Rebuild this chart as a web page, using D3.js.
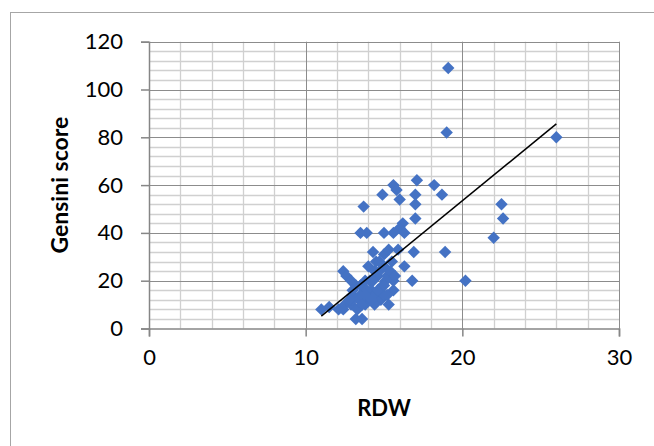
<!DOCTYPE html>
<html>
<head>
<meta charset="utf-8">
<title>RDW vs Gensini score</title>
<script src="https://d3js.org/d3.v7.min.js"></script>
<style>
  body { margin: 0; background: #fff; }
  svg text { font-family: Lato, "Open Sans", sans-serif; fill: #000; }
  .tick-label { font-size: 22px; }
  .axis-title { font-size: 22px; font-weight: bold; }
  .y-title { font-size: 23px; }
</style>
</head>
<body>
<script>
// RDW values (x) and Gensini scores (y)
const rdw = [
  11.0, 11.5, 12.1, 12.4, 12.5, 12.9, 13.0, 13.2, 13.6, 13.3, 13.5, 13.0,
  12.4, 12.6, 12.9, 13.2, 13.5, 13.8, 14.0, 14.1, 14.3, 14.5, 14.7, 15.0,
  15.0, 15.3, 15.5, 15.2, 15.6, 15.6, 15.3, 15.9, 16.3, 16.8, 16.9, 16.2,
  16.0, 16.3, 15.6, 15.0, 13.9, 13.5, 13.7, 14.9, 15.6, 15.8, 16.0, 17.1,
  17.0, 17.0, 17.0, 18.2, 18.7, 18.9, 19.0, 19.1, 20.2, 22.0, 22.5, 22.6,
  26.0, 14.2, 14.5, 14.0, 14.8, 14.9, 15.1, 14.6, 13.8, 14.4, 13.9, 14.3,
  15.4, 15.7, 15.0, 14.7, 13.0, 13.4, 13.8, 14.2, 14.6, 15.0, 15.2, 14.4,
  13.6, 12.8
];
const gensini = [
  8, 9, 8, 8, 10, 10, 12, 4, 4, 8, 14, 14,
  24, 22, 20, 18, 18, 20, 26, 20, 32, 28, 24, 31,
  26, 33, 28, 22, 20, 16, 10, 33, 26, 20, 32, 44,
  42, 40, 40, 40, 40, 40, 51, 56, 60, 58, 54, 62,
  56, 52, 46, 60, 56, 32, 82, 109, 20, 38, 52, 46,
  80, 16, 14, 12, 12, 18, 20, 22, 10, 10, 16, 20,
  24, 22, 14, 28, 16, 12, 14, 12, 16, 18, 14, 24,
  10, 12
];
// linear trendline end points
const trendX = [11, 26];
const trendY = [5.2, 85.6];

const xTicks = [0, 10, 20, 30];
const yTicks = [0, 20, 40, 60, 80, 100, 120];

const W = 654, H = 446;
const pLeft = 149, pRight = 619, pTop = 41.7, pBottom = 328.5;

const svg = d3.select("body").append("svg")
  .attr("width", W).attr("height", H);

// chart border
svg.append("rect")
  .attr("x", 10.5).attr("y", 12.5)
  .attr("width", W + 20).attr("height", H + 20)
  .attr("fill", "#fff").attr("stroke", "#a6a6a6").attr("stroke-width", 1);

const x = d3.scaleLinear().domain([0, 30]).range([pLeft, pRight]);
const y = d3.scaleLinear().domain([0, 120]).range([pBottom, pTop]);

// minor gridlines
const grid = svg.append("g");
grid.selectAll(".vminor")
  .data(d3.range(2, 30, 2).filter(v => v % 10 !== 0))
  .join("line")
  .attr("x1", d => Math.round(x(d)) + 0.5).attr("x2", d => Math.round(x(d)) + 0.5)
  .attr("y1", pTop).attr("y2", pBottom)
  .attr("stroke", "#d0d0d0").attr("stroke-width", 1.3);
grid.selectAll(".hminor")
  .data(d3.range(4, 120, 4).filter(v => v % 20 !== 0))
  .join("line")
  .attr("x1", pLeft).attr("x2", pRight)
  .attr("y1", d => Math.round(y(d)) + 0.5).attr("y2", d => Math.round(y(d)) + 0.5)
  .attr("stroke", "#d0d0d0").attr("stroke-width", 1.3);

// major gridlines
grid.selectAll(".vmajor")
  .data(xTicks.slice(1))
  .join("line")
  .attr("x1", d => Math.round(x(d)) + 0.5).attr("x2", d => Math.round(x(d)) + 0.5)
  .attr("y1", pTop).attr("y2", pBottom)
  .attr("stroke", "#8c8c8c").attr("stroke-width", 1);
grid.selectAll(".hmajor")
  .data(yTicks.slice(1))
  .join("line")
  .attr("x1", pLeft).attr("x2", pRight)
  .attr("y1", d => Math.round(y(d)) + 0.5).attr("y2", d => Math.round(y(d)) + 0.5)
  .attr("stroke", "#8c8c8c").attr("stroke-width", 1);

// axes
const xAxis = d3.axisBottom(x).tickValues(xTicks).tickSize(8).tickPadding(4);
const yAxis = d3.axisLeft(y).tickValues(yTicks).tickSize(8).tickPadding(18);

const gx = svg.append("g")
  .attr("transform", `translate(0,${pBottom})`)
  .call(xAxis);
const gy = svg.append("g")
  .attr("transform", `translate(${pLeft},0)`)
  .call(yAxis);

[gx, gy].forEach(g => {
  g.select(".domain").attr("stroke", "#868686").attr("stroke-width", 1.5);
  g.selectAll(".tick line").attr("stroke", "#868686").attr("stroke-width", 1.5);
  g.selectAll(".tick text")
    .attr("class", "tick-label")
    .attr("font-family", null).attr("font-size", null)
    .attr("fill", "#000");
});
gx.selectAll(".tick text").attr("dy", "1.1em");

// points
const pts = rdw.map((v, i) => ({ x: v, y: gensini[i] }));
const diamond = d3.symbol().type(d3.symbolDiamond2).size(98);
svg.append("g").selectAll("path")
  .data(pts)
  .join("path")
  .attr("d", diamond)
  .attr("transform", d => `translate(${x(d.x)},${y(d.y)})`)
  .attr("fill", "#4472c4");

// trendline
const line = d3.line().x(d => x(d[0])).y(d => y(d[1]));
svg.append("path")
  .attr("d", line(trendX.map((v, i) => [v, trendY[i]])))
  .attr("fill", "none").attr("stroke", "#000").attr("stroke-width", 1.5);

// axis titles
svg.append("text")
  .attr("class", "axis-title")
  .attr("x", (pLeft + pRight) / 2).attr("y", 416)
  .attr("text-anchor", "middle")
  .text("RDW");
svg.append("text")
  .attr("class", "axis-title y-title")
  .attr("transform", `translate(68,${(pTop + pBottom) / 2}) rotate(-90)`)
  .attr("text-anchor", "middle")
  .text("Gensini score");
</script>
</body>
</html>
